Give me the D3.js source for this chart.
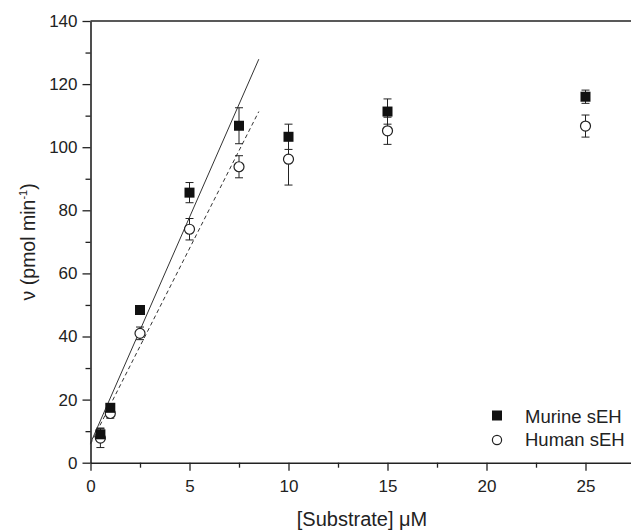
<!DOCTYPE html>
<html>
<head>
<meta charset="utf-8">
<script src="https://cdn.jsdelivr.net/npm/d3@7"></script>
<style>
  body { margin: 0; background: #fff; }
  svg { font-family: "Liberation Sans", Arial, sans-serif; }
</style>
</head>
<body>
<svg width="631" height="531"></svg>
<script>
// Data
const substrate = [0.5, 1, 2.5, 5, 7.5, 10, 15, 25];
const murine = [9, 17.4, 48.4, 85.6, 106.8, 103.3, 111.3, 116.0];
const murineErr = [2, 1, 1, 3.2, 5.7, 4, 4, 2.1];
const human = [7.8, 15.6, 41, 74.0, 93.8, 96.2, 105.2, 106.7];
const humanErr = [3, 1.5, 2, 3.4, 3.5, 8.2, 4.3, 3.5];
// linear fits (start, end)
const murineFit = [[0, 6.2], [8.5, 127.9]];
const humanFit = [[0, 5.9], [8.5, 111.3]];
const xTicks = [0, 5, 10, 15, 20, 25];
const yTicks = [0, 20, 40, 60, 80, 100, 120, 140];

const svg = d3.select("svg");
const margin = { left: 90.5, top: 21, bottom: 68.3 };
const height = 531;

const x = d3.scaleLinear().domain([0, 27.5]).range([margin.left, margin.left + 27.5 * 19.8]);
const y = d3.scaleLinear().domain([0, 140]).range([height - margin.bottom, margin.top]);

// top spine
svg.append("line")
    .attr("x1", x(0)).attr("x2", 631)
    .attr("y1", y(140)).attr("y2", y(140))
    .attr("stroke", "#222").attr("stroke-width", 1.6);

// x axis
svg.append("g")
    .attr("transform", `translate(0,${y(0)})`)
    .call(d3.axisBottom(x).tickValues(xTicks).tickSize(8).tickPadding(9).tickSizeOuter(0));
svg.append("g")
    .attr("transform", `translate(0,${y(0)})`)
    .call(d3.axisBottom(x).tickValues([2.5, 7.5, 12.5, 17.5, 22.5]).tickSize(5).tickFormat("").tickSizeOuter(0))
    .call(g => g.select(".domain").remove());

// y axis
svg.append("g")
    .attr("transform", `translate(${x(0)},0)`)
    .call(d3.axisLeft(y).tickValues(yTicks).tickSize(8).tickPadding(5).tickSizeOuter(0));
svg.append("g")
    .attr("transform", `translate(${x(0)},0)`)
    .call(d3.axisLeft(y).tickValues([10, 30, 50, 70, 90, 110, 130]).tickSize(5).tickFormat("").tickSizeOuter(0))
    .call(g => g.select(".domain").remove());

svg.selectAll(".domain").attr("stroke", "#222").attr("stroke-width", 1.6);
svg.selectAll(".tick line").attr("stroke", "#222").attr("stroke-width", 1.3);
svg.selectAll(".tick text").attr("font-size", 17).attr("fill", "#222")
    .attr("font-family", "Liberation Sans, Arial, sans-serif");

// axis labels
svg.append("text")
    .attr("x", 362).attr("y", 525.5)
    .attr("text-anchor", "middle").attr("font-size", 20).attr("fill", "#222")
    .text("[Substrate] μM");

svg.append("text")
    .attr("transform", `translate(35,${(y(0) + y(140)) / 2}) rotate(-90)`)
    .attr("text-anchor", "middle").attr("font-size", 19.5).attr("fill", "#222")
    .html('ν (pmol min<tspan dy="-8" font-size="11">-1</tspan><tspan dy="8">)</tspan>');

// fit lines
const line = d3.line().x(d => x(d[0])).y(d => y(d[1]));
svg.append("path").attr("d", line(murineFit))
    .attr("fill", "none").attr("stroke", "#333").attr("stroke-width", 1);
svg.append("path").attr("d", line(humanFit))
    .attr("fill", "none").attr("stroke", "#333").attr("stroke-width", 1)
    .attr("stroke-dasharray", "4,3");

// error bars
function errorBars(vals, errs) {
    const g = svg.append("g").attr("stroke", "#222").attr("stroke-width", 1);
    substrate.forEach((s, i) => {
        const cx = x(s);
        g.append("line").attr("x1", cx).attr("x2", cx)
            .attr("y1", y(vals[i] - errs[i])).attr("y2", y(vals[i] + errs[i]));
        [vals[i] - errs[i], vals[i] + errs[i]].forEach(v => {
            g.append("line").attr("x1", cx - 4).attr("x2", cx + 4)
                .attr("y1", y(v)).attr("y2", y(v));
        });
    });
}
errorBars(human, humanErr);
errorBars(murine, murineErr);

// markers
svg.append("g").selectAll("circle").data(substrate).join("circle")
    .attr("cx", d => x(d)).attr("cy", (d, i) => y(human[i]))
    .attr("r", 5).attr("fill", "#fff").attr("stroke", "#222").attr("stroke-width", 1.2);

svg.append("g").selectAll("rect").data(substrate).join("rect")
    .attr("x", d => x(d) - 5).attr("y", (d, i) => y(murine[i]) - 5)
    .attr("width", 10).attr("height", 10).attr("fill", "#111");

// legend
const legend = svg.append("g");
legend.append("rect").attr("x", 492).attr("y", 410.5).attr("width", 10).attr("height", 10).attr("fill", "#111");
legend.append("circle").attr("cx", 497).attr("cy", 440).attr("r", 4.6)
    .attr("fill", "#fff").attr("stroke", "#222").attr("stroke-width", 1.2);
legend.append("text").attr("x", 525).attr("y", 423).attr("font-size", 18.5).attr("fill", "#222").text("Murine sEH");
legend.append("text").attr("x", 525).attr("y", 446).attr("font-size", 18.5).attr("fill", "#222").text("Human sEH");
</script>
</body>
</html>
